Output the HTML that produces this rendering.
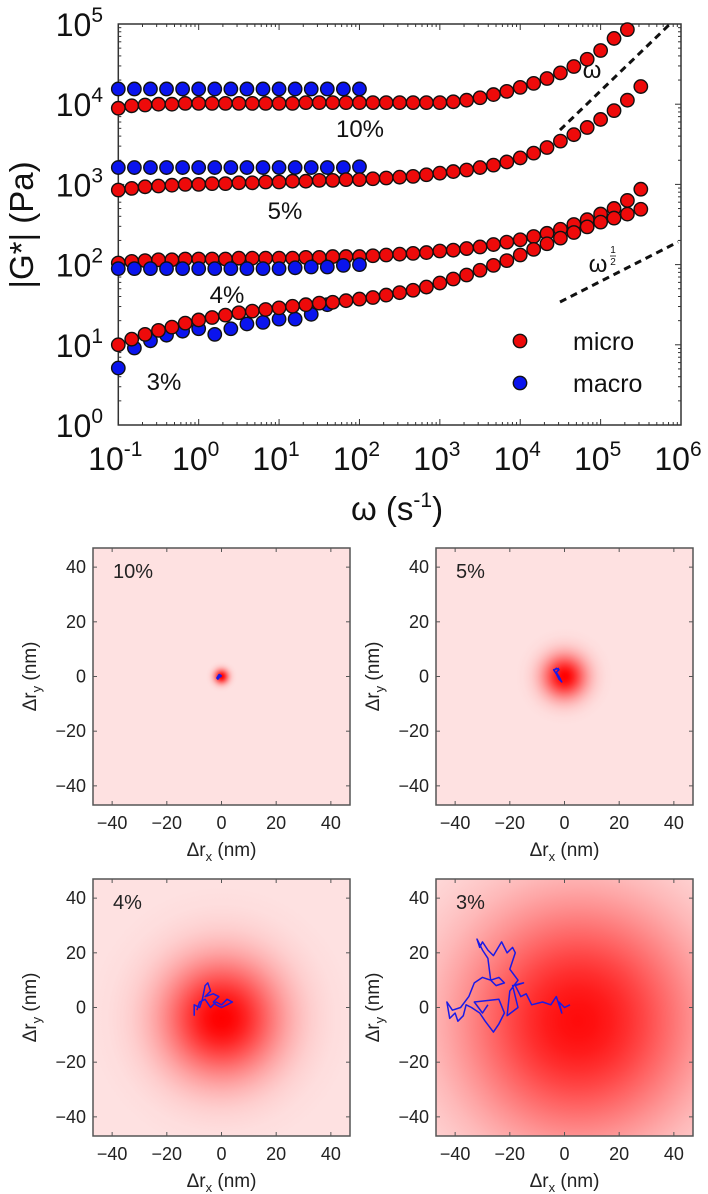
<!DOCTYPE html>
<html><head><meta charset="utf-8">
<style>
html,body{margin:0;padding:0;background:#fff;}
svg{display:block;font-family:"Liberation Sans","DejaVu Sans",sans-serif;}
</style></head>
<body>
<svg id="fig" width="708" height="1194" viewBox="0 0 708 1194" xmlns="http://www.w3.org/2000/svg">
<defs></defs>
<g id="main"></g>
<g id="panels"></g>
</svg>
<script>
// ---- main chart data (log10 values) ----
const omegaExp = [-1,-0.833,-0.667,-0.5,-0.333,-0.167,0,0.167,0.333,0.5,0.667,0.833,1,1.167,1.333,1.5,1.667,1.833,2,2.167,2.333,2.5,2.667,2.833,3,3.167,3.333,3.5,3.667,3.833,4,4.167,4.333,4.5,4.667,4.833,5,5.167,5.333,5.5];
const micro10 = [3.95,3.98,3.99,4.0,4.0,4.01,4.01,4.01,4.01,4.01,4.01,4.01,4.01,4.01,4.02,4.02,4.02,4.02,4.02,4.02,4.02,4.02,4.02,4.02,4.02,4.03,4.05,4.08,4.12,4.16,4.21,4.26,4.32,4.39,4.47,4.56,4.67,4.82,4.93,null];
const micro5 = [2.93,2.95,2.97,2.98,2.99,3.0,3.0,3.01,3.01,3.02,3.02,3.03,3.03,3.04,3.04,3.05,3.05,3.06,3.06,3.07,3.08,3.09,3.1,3.12,3.14,3.16,3.18,3.21,3.24,3.28,3.33,3.39,3.46,3.54,3.62,3.71,3.81,3.92,4.05,4.22];
const micro4 = [2.02,2.04,2.05,2.06,2.06,2.07,2.07,2.07,2.07,2.08,2.08,2.08,2.08,2.08,2.09,2.09,2.1,2.1,2.1,2.11,2.12,2.13,2.14,2.15,2.17,2.18,2.2,2.22,2.25,2.28,2.31,2.35,2.39,2.44,2.5,2.56,2.63,2.7,2.8,2.94];
const micro3 = [1.0,1.07,1.13,1.18,1.22,1.27,1.31,1.34,1.37,1.4,1.42,1.44,1.46,1.48,1.5,1.52,1.53,1.55,1.57,1.59,1.62,1.65,1.68,1.72,1.77,1.82,1.87,1.93,1.99,2.05,2.12,2.19,2.26,2.33,2.4,2.47,2.53,2.58,2.63,2.69];
const macroExp = [-1,-0.8,-0.6,-0.4,-0.2,0,0.2,0.4,0.6,0.8,1,1.2,1.4,1.6,1.8,2];
const macro10 = [4.19,4.19,4.19,4.19,4.19,4.19,4.19,4.19,4.19,4.19,4.19,4.19,4.19,4.19,4.19,4.19];
const macro5 = [3.21,3.21,3.21,3.21,3.21,3.21,3.21,3.21,3.21,3.21,3.21,3.21,3.21,3.21,3.21,3.22];
const macro4 = [1.95,1.95,1.95,1.95,1.95,1.95,1.95,1.95,1.95,1.95,1.95,1.96,1.97,1.97,1.99,2.0];
const macro3 = [0.71,0.96,1.05,1.12,1.17,1.2,1.13,1.2,1.26,1.28,1.32,1.32,1.38,1.5,null,null];
const xTickExp = [-1,0,1,2,3,4,5,6];
const yTickExp = [0,1,2,3,4,5];

// ---- panel data ----
const panelLabels = ["10%","5%","4%","3%"];
const panelSigma = [1.8,5.5,15,30];
const panelCx = [0,0,0,5];
const panelCy = [0,0,-4,-5];
const panelPeak = [1,1,1,0.95];
const panelTicks = [-40,-20,0,20,40];
const traj10 = [[-1,-1],[-1.5,-0.5],[-0.8,0.5],[-0.3,0.2],[-1,-0.2]];
const traj5 = [[-4,2],[-3,3],[-2,2.5],[-3,1.5],[-2,0],[-1,-2],[-2,-1],[-3,1],[-4,2.5],[-2,3]];
const traj4 = [[-10,-3],[-10,1],[-8,0],[-7,3],[-6,8],[-5,9],[-4,6],[-6,4],[-3,5],[-1,4],[-3,2],[-2,1],[0,0],[2,1],[4,2],[2,3],[0,1],[-2,2],[-4,0],[-6,3],[-8,2],[-9,-1]];
const traj3 = [[2,1],[0,0],[-2,2],[-1,-2],[-3,4],[-5,1],[-8,2],[-12,1],[-14,5],[-16,4],[-18,8],[-15,9],[-19,8],[-17,0],[-21,-3],[-20,6],[-17,10],[-20,14],[-18,20],[-19,22],[-21,20],[-23,24],[-26,19],[-28,21],[-30,24],[-31,22],[-32,25],[-30,21],[-28,18],[-27,10],[-24,11],[-22,9],[-25,8],[-27,10],[-30,11],[-33,9],[-35,4],[-38,0],[-41,-1],[-43,2],[-42,-4],[-40,-2],[-39,-5],[-37,-3],[-36,1],[-34,0],[-31,-2],[-29,-5],[-26,-9],[-24,-6],[-22,-2],[-24,3],[-33,2],[-30,-2],[-28,1]];
const trajs = [traj10,traj5,traj4,traj3];

const NS="http://www.w3.org/2000/svg";
function mk(tag,attrs,parent){const e=document.createElementNS(NS,tag);for(const k in attrs)e.setAttribute(k,attrs[k]);parent.appendChild(e);return e;}

// ---- main chart ----
const main=document.getElementById('main');
const X0=118.3,X1=681,Y0=425,Y1=24;
const xs=v=>X0+(v+1)*(X1-X0)/7;
const ys=v=>Y0-v*(Y0-Y1)/5;
const frame=mk('rect',{x:X0,y:Y1,width:X1-X0,height:Y0-Y1,fill:'none',stroke:'#333','stroke-width':1.5},main);

// ticks
for(let d=-1;d<6;d++){for(let m=1;m<10;m++){const x=xs(d+Math.log10(m));const L=m===1?6:3;
 mk('line',{x1:x,y1:Y0,x2:x,y2:Y0-L,stroke:'#333','stroke-width':1},main);
 mk('line',{x1:x,y1:Y1,x2:x,y2:Y1+L,stroke:'#333','stroke-width':1},main);}}
for(let d=0;d<5;d++){for(let m=1;m<10;m++){const y=ys(d+Math.log10(m));const L=m===1?6:3;
 mk('line',{x1:X0,y1:y,x2:X0+L,y2:y,stroke:'#333','stroke-width':1},main);
 mk('line',{x1:X1,y1:y,x2:X1-L,y2:y,stroke:'#333','stroke-width':1},main);}}
xTickExp.forEach(e=>{const t=mk('text',{x:xs(e)-3,y:470,'font-size':32,'text-anchor':'middle',fill:'#111'},main);
 
 t.appendChild(document.createTextNode('10'));const s=mk('tspan',{dy:-14,'font-size':21},t);s.textContent=String(e);});
yTickExp.forEach(e=>{const t=mk('text',{x:103,y:ys(e)+12,'font-size':32,'text-anchor':'end',fill:'#111'},main);
 
 t.appendChild(document.createTextNode('10'));const s=mk('tspan',{dy:-14,'font-size':21},t);s.textContent=String(e);});
const xt=mk('text',{x:397,y:520,'font-size':33,'text-anchor':'middle',fill:'#111'},main);

xt.appendChild(document.createTextNode('ω (s'));{const s=mk('tspan',{dy:-13,'font-size':21},xt);s.textContent='-1';const s2=mk('tspan',{dy:13},xt);s2.textContent=')';}
const yt=mk('text',{x:0,y:0,'font-size':33,'text-anchor':'middle',fill:'#111',transform:'translate(33,225) rotate(-90)'},main);

yt.textContent='|G*| (Pa)';
// power-law guides
const g1=mk('line',{x1:560,y1:130,x2:670,y2:24,stroke:'#111','stroke-width':3,'stroke-dasharray':'7,5'},main);

const g2=mk('line',{x1:560,y1:302,x2:678,y2:242,stroke:'#111','stroke-width':3,'stroke-dasharray':'7,5'},main);

const l1=mk('text',{x:592,y:78,'font-size':24,'text-anchor':'middle',fill:'#111'},main);l1.textContent='ω';

const l2=mk('text',{x:598,y:272,'font-size':24,'text-anchor':'middle',fill:'#111'},main);l2.textContent='ω';

const l2a=mk('text',{x:613,y:253,'font-size':10,'text-anchor':'middle',fill:'#111'},main);l2a.textContent='1';
const l2b=mk('line',{x1:610,y1:256,x2:616,y2:256,stroke:'#111','stroke-width':0.8},main);
const l2c=mk('text',{x:613,y:265,'font-size':10,'text-anchor':'middle',fill:'#111'},main);l2c.textContent='2';
// series
function series(xsArr,vals,color,name){vals.forEach((v,i)=>{if(v===null)return;
 const c=mk('circle',{cx:xs(xsArr[i]),cy:ys(v),r:6.7,fill:color,stroke:'#111','stroke-width':1.4},main);
 });}
series(macroExp,macro10,'#0a14ee','macro-10-point');
series(omegaExp,micro10,'#ee0a0a','micro-10-point');
series(macroExp,macro5,'#0a14ee','macro-5-point');
series(omegaExp,micro5,'#ee0a0a','micro-5-point');
series(omegaExp,micro4,'#ee0a0a','micro-4-point');
series(macroExp,macro4,'#0a14ee','macro-4-point');
series(macroExp,macro3,'#0a14ee','macro-3-point');
series(omegaExp,micro3,'#ee0a0a','micro-3-point');
[['10%',360,137,'label-10'],['5%',285,219,'label-5'],['4%',227,303,'label-4'],['3%',164,390,'label-3']].forEach(a=>{
 const t=mk('text',{x:a[1],y:a[2],'font-size':24,'text-anchor':'middle',fill:'#111'},main);t.textContent=a[0];
 });
// legend
const lg=mk('g',{},main);
const lc1=mk('circle',{cx:520,cy:341,r:6.7,fill:'#ee0a0a',stroke:'#111','stroke-width':1.4},lg);

const lt1=mk('text',{x:573,y:350,'font-size':25,fill:'#111'},lg);lt1.textContent='micro';

const lc2=mk('circle',{cx:520,cy:383,r:6.7,fill:'#0a14ee',stroke:'#111','stroke-width':1.4},lg);

const lt2=mk('text',{x:573,y:392,'font-size':25,fill:'#111'},lg);lt2.textContent='macro';


// ---- panels ----
const panels=document.getElementById('panels');
const defs=document.querySelector('defs');
const origins=[[93,548],[436,548],[93,879],[436,879]];
const PW=257,K=PW/94;
origins.forEach((o,i)=>{
 const g=mk('g',{},panels);
 const px=v=>o[0]+(v+47)*K, py=v=>o[1]+(47-v)*K;
 const clip=mk('clipPath',{id:'clip'+i},defs);mk('rect',{x:o[0],y:o[1],width:PW,height:PW},clip);
 const bg=mk('rect',{x:o[0],y:o[1],width:PW,height:PW,fill:'rgb(254,226,226)'},g);
 
 const gr=mk('radialGradient',{id:'grad'+i,gradientUnits:'userSpaceOnUse',cx:px(panelCx[i]),cy:py(panelCy[i]),r:panelSigma[i]*K*3.2},defs);
 for(let k=0;k<=16;k++){const r=k/16*3.2;const w=panelPeak[i]*Math.exp(-r*r/2);
  const gch=Math.round(226*(1-w)),rch=Math.round(254+1*w);
  mk('stop',{offset:(k/16).toFixed(3),'stop-color':`rgb(${Math.min(255,rch)},${gch},${gch})`},gr);}
 const heat=mk('rect',{x:o[0],y:o[1],width:PW,height:PW,fill:`url(#grad${i})`,'clip-path':`url(#clip${i})`},g);
 
 const tr=trajs[i];
 const pl=mk('polyline',{points:tr.map(p=>px(p[0]).toFixed(1)+','+py(p[1]).toFixed(1)).join(' '),fill:'none',stroke:'#1a1ae6','stroke-width':i===0?2.5:1.5,'stroke-linejoin':'round'},g);
 
 mk('rect',{x:o[0],y:o[1],width:PW,height:PW,fill:'none',stroke:'#555','stroke-width':1.5},g);
 panelTicks.forEach(t=>{
  mk('line',{x1:px(t),y1:o[1]+PW,x2:px(t),y2:o[1]+PW-4,stroke:'#555','stroke-width':1},g);
  mk('line',{x1:px(t),y1:o[1],x2:px(t),y2:o[1]+4,stroke:'#555','stroke-width':1},g);
  mk('line',{x1:o[0],y1:py(t),x2:o[0]+4,y2:py(t),stroke:'#555','stroke-width':1},g);
  mk('line',{x1:o[0]+PW,y1:py(t),x2:o[0]+PW-4,y2:py(t),stroke:'#555','stroke-width':1},g);
  const lab=t<0?'−'+Math.abs(t):String(t);
  const tx=mk('text',{x:px(t),y:o[1]+PW+24,'font-size':18,'text-anchor':'middle',fill:'#222'},g);tx.textContent=lab;
  
  const ty=mk('text',{x:o[0]-7,y:py(t)+6,'font-size':18,'text-anchor':'end',fill:'#222'},g);ty.textContent=lab;
  
 });
 const xl=mk('text',{x:o[0]+PW/2,y:o[1]+PW+51,'font-size':19,'text-anchor':'middle',fill:'#222'},g);
 
 xl.appendChild(document.createTextNode('Δr'));{const s=mk('tspan',{dy:5,'font-size':13},xl);s.textContent='x';const s2=mk('tspan',{dy:-5},xl);s2.textContent=' (nm)';}
 const yl=mk('text',{x:0,y:0,'font-size':19,'text-anchor':'middle',fill:'#222',transform:`translate(${o[0]-57},${o[1]+PW/2}) rotate(-90)`},g);
 
 yl.appendChild(document.createTextNode('Δr'));{const s=mk('tspan',{dy:5,'font-size':13},yl);s.textContent='y';const s2=mk('tspan',{dy:-5},yl);s2.textContent=' (nm)';}
 const pt=mk('text',{x:o[0]+20,y:o[1]+30,'font-size':20,fill:'#222'},g);pt.textContent=panelLabels[i];
 
});
</script>
</body></html>
